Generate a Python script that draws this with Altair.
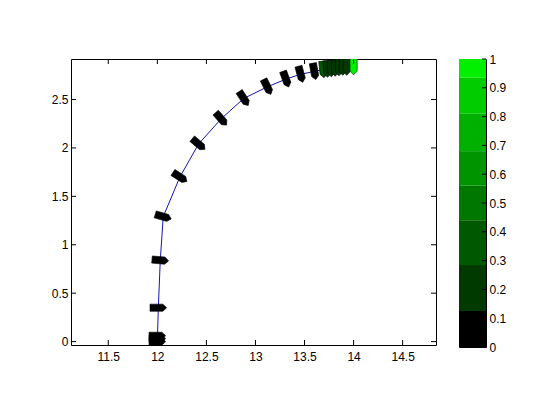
import altair as alt
import pandas as pd

# ---- data ----
curve_x = [12.0, 12.01, 12.03, 12.06, 12.23, 12.42, 12.65, 12.88, 13.12, 13.31, 13.46, 13.6, 13.69, 13.8, 13.9, 14.0]
curve_y = [0.0, 0.35, 0.84, 1.29, 1.70, 2.04, 2.30, 2.51, 2.63, 2.71, 2.76, 2.79, 2.81, 2.825, 2.835, 2.84]

marker_x = [12.0, 12.0, 12.0, 12.01, 12.03, 12.06, 12.23, 12.42, 12.65, 12.88, 13.12, 13.31, 13.46, 13.6,
            13.69, 13.73, 13.77, 13.81, 13.85, 13.89, 13.93, 14.0]
marker_y = [0.0, 0.03, 0.06, 0.35, 0.84, 1.29, 1.70, 2.04, 2.30, 2.51, 2.63, 2.71, 2.76, 2.79,
            2.81, 2.815, 2.82, 2.825, 2.83, 2.835, 2.835, 2.84]
marker_angle = [0, 0, 0, 0, 5, 16, 33, 40, 49, 57, 64, 70, 75, 80,
                84, 86, 87, 88, 89, 90, 90, 90]
marker_value = [0.05] * 14 + [0.3, 0.2, 0.2, 0.2, 0.2, 0.2, 0.2, 0.95]

x_ticks = [11.5, 12, 12.5, 13, 13.5, 14, 14.5]
y_ticks = [0, 0.5, 1, 1.5, 2, 2.5]
cbar_ticks = [0, 0.1, 0.2, 0.3, 0.4, 0.5, 0.6, 0.7, 0.8, 0.9, 1]
band_edges = [0, 0.125, 0.285, 0.44, 0.56, 0.68, 0.81, 0.935, 1]
band_colors = ["#000000", "#003a00", "#005800", "#007800", "#009400", "#00b000", "#00cc00", "#00f000"]

W, H = 365, 286
CBW, CBH = 27, 288
FONT = "Liberation Sans"

xs = alt.Scale(domain=[11.12, 14.84], nice=False, zero=False)
ys = alt.Scale(domain=[-0.035, 2.918], nice=False, zero=False)
cbs = alt.Scale(domain=[0, 1], nice=False, zero=False)
cscale = alt.Scale(type="threshold", domain=band_edges[1:-1], range=band_colors)

xaxis = alt.Axis(values=x_ticks, labelPadding=6, format="~g", title=None)
yaxis = alt.Axis(values=y_ticks, labelPadding=3, format="~g", title=None)
cbaxis = alt.Axis(orient="right", values=cbar_ticks, labelPadding=3, format="~g", title=None)

curve_df = pd.DataFrame({"x": curve_x, "y": curve_y, "order": list(range(len(curve_x)))})
marker_df = pd.DataFrame({"x": marker_x, "y": marker_y, "angle": marker_angle, "v": marker_value})
xt_df = pd.DataFrame({"x": x_ticks})
yt_df = pd.DataFrame({"y": y_ticks})

line = alt.Chart(curve_df).mark_line(color="#1414b4", strokeWidth=1, clip=True).encode(
    x=alt.X("x:Q", scale=xs, axis=xaxis),
    y=alt.Y("y:Q", scale=ys, axis=yaxis),
    order="order:Q",
)

arrow = "M -1 -0.43 L 0.55 -0.43 L 1 0 L 0.55 0.43 L -1 0.43 Z"
markers = alt.Chart(marker_df).mark_point(
    shape=arrow, filled=True, size=276, stroke="black", strokeWidth=0.6, opacity=1, fillOpacity=1, clip=True
).encode(
    x=alt.X("x:Q", scale=xs, axis=xaxis),
    y=alt.Y("y:Q", scale=ys, axis=yaxis),
    angle=alt.Angle("angle:Q", scale=None),
    fill=alt.Fill("v:Q", scale=cscale, legend=None),
)

tick_style = dict(color="black", strokeWidth=1)
xt_bot = alt.Chart(xt_df).mark_rule(**tick_style).encode(
    x=alt.X("x:Q", scale=xs, axis=xaxis), y=alt.value(H), y2=alt.value(H - 5))
xt_top = alt.Chart(xt_df).mark_rule(**tick_style).encode(
    x=alt.X("x:Q", scale=xs, axis=xaxis), y=alt.value(0), y2=alt.value(5))
yt_left = alt.Chart(yt_df).mark_rule(**tick_style).encode(
    y=alt.Y("y:Q", scale=ys, axis=yaxis), x=alt.value(0), x2=alt.value(5))
yt_right = alt.Chart(yt_df).mark_rule(**tick_style).encode(
    y=alt.Y("y:Q", scale=ys, axis=yaxis), x=alt.value(W), x2=alt.value(W - 5))

main = alt.layer(line, markers, xt_bot, xt_top, yt_left, yt_right).properties(width=W, height=H)

cb_df = pd.DataFrame({"lo": band_edges[:-1], "hi": band_edges[1:]})
cb_df["mid"] = (cb_df["lo"] + cb_df["hi"]) / 2
cbar_rect = alt.Chart(cb_df).mark_rect().encode(
    y=alt.Y("lo:Q", scale=cbs, axis=cbaxis),
    y2="hi:Q",
    x=alt.value(0),
    x2=alt.value(CBW),
    fill=alt.Fill("mid:Q", scale=cscale, legend=None),
)
cbt_df = pd.DataFrame({"lo": cbar_ticks})
cbar_ticks_layer = alt.Chart(cbt_df).mark_rule(**tick_style).encode(
    y=alt.Y("lo:Q", scale=cbs, axis=cbaxis), x=alt.value(CBW), x2=alt.value(CBW - 4)
)
cbar = alt.layer(cbar_rect, cbar_ticks_layer).properties(width=CBW, height=CBH)

chart = alt.hconcat(main, cbar, spacing=21).properties(
    padding={"left": 42, "top": 44, "right": 5, "bottom": 5},
    background="white",
).configure_view(stroke="black", strokeWidth=1).configure_axis(
    ticks=False, domain=False, grid=False, labelFont=FONT, labelFontSize=12,
    labelColor="black", labelOverlap=False,
)

chart.save("out.html", embed_options={"renderer": "svg", "actions": False})
